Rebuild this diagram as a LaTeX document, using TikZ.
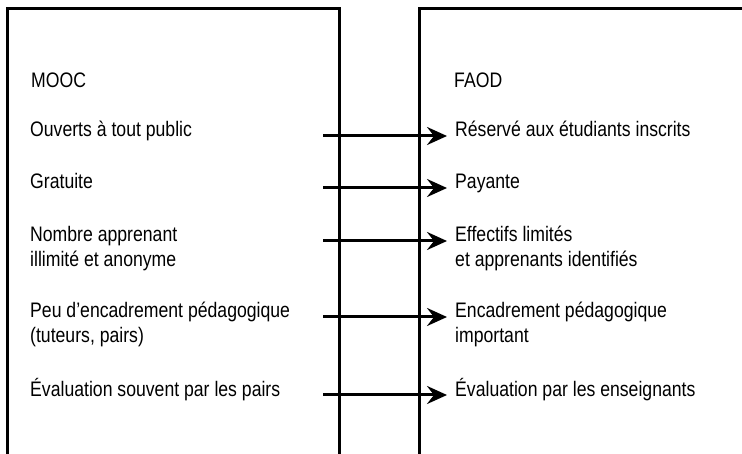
\documentclass[tikz,border=0pt]{standalone}
\usepackage{fontspec}
\setmainfont[FakeStretch=0.84]{Liberation Sans}
\usetikzlibrary{arrows.meta}

\begin{document}
\begin{tikzpicture}[x=1pt, y=-1pt,
		item/.style = {anchor = base west, inner sep = 0, align = left, font = \fontsize{21}{25}\selectfont},
		rightitem/.style = {item, inner xsep = 8pt},
		frame/.style = {line width = 3pt},
		link/.style = {line width = 3pt, -{Stealth[length = 20pt, width = 18pt, inset = 7pt]}}]
		\def\top{9};
		\def\bot{460};
		\def\la{7};
		\def\lb{339};
		\def\ra{419};
		\def\start{323};
		
		\useasboundingbox (0,0) rectangle (742,454);
		
		\draw [frame] (\la,\bot) -- (\la,\top) -- (\lb,\top) -- (\lb,\bot);
		\draw [frame] (\ra,\bot) -- (\ra,\top) -- (750,\top);
		
		\node [item] (mooc) at (31,88) {MOOC};
		\node [item] (l1) at (30,137) {Ouverts à tout public};
		\node [item] (l2) at (30,189) {Gratuite};
		\node [item] (l3) at (30,267) {Nombre apprenant\\illimité et anonyme};
		\node [item] (l4) at (30,343) {Peu d’encadrement pédagogique\\(tuteurs, pairs)};
		\node [item] (l5) at (30,396) {Évaluation souvent par les pairs};
		
		\node [rightitem] (faod) at (446,88) {FAOD};
		\node [rightitem] (r1) at (447,137) {Réservé aux étudiants inscrits};
		\node [rightitem] (r2) at (447,189) {Payante};
		\node [rightitem] (r3) at (447,267) {Effectifs limités\\et apprenants identifiés};
		\node [rightitem] (r4) at (447,343) {Encadrement pédagogique\\important};
		\node [rightitem] (r5) at (447,396) {Évaluation par les enseignants};
		
		\coordinate (s1) at (\start,136);
		\coordinate (s2) at (\start,188);
		\coordinate (s3) at (\start,241);
		\coordinate (s4) at (\start,317);
		\coordinate (s5) at (\start,395);
		
		\draw [link] (s1) -- (s1 -| r1.west);
		\draw [link] (s2) -- (s2 -| r2.west);
		\draw [link] (s3) -- (s3 -| r3.west);
		\draw [link] (s4) -- (s4 -| r4.west);
		\draw [link] (s5) -- (s5 -| r5.west);
\end{tikzpicture}
\end{document}
